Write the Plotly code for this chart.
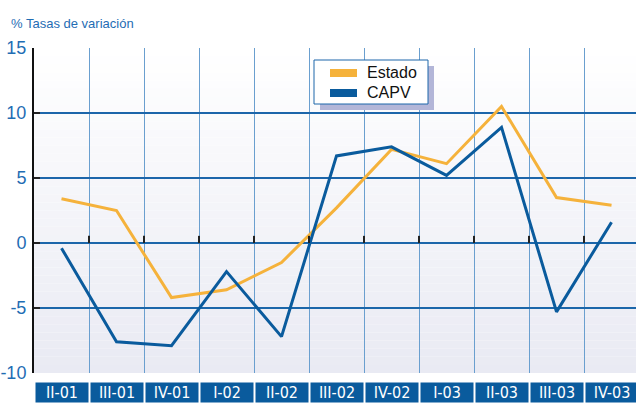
import plotly.graph_objects as go

# Quarterly periods and year-on-year growth rates (%)
periodos = ["II-01", "III-01", "IV-01", "I-02", "II-02", "III-02",
            "IV-02", "I-03", "II-03", "III-03", "IV-03"]
estado = [3.4, 2.5, -4.2, -3.6, -1.5, 2.7, 7.2, 6.1, 10.5, 3.5, 2.9]
capv = [-0.4, -7.6, -7.9, -2.2, -7.2, 6.7, 7.4, 5.2, 8.9, -5.3, 1.6]
y_ticks = [-10, -5, 0, 5, 10, 15]
y_labels = ["-10", "-5", "0", "5", "10", "15"]

NARANJA = "#f5b23b"
AZUL = "#0a5b9d"
AZUL_TXT = "#1f6db4"
AZUL_REJILLA = "#1c66aa"
AZUL_VERT = "#6a9fcf"

W, H = 636, 406
ML, MR, MT, MB = 34, 0, 48, 33
PW, PH = W - ML - MR, H - MT - MB


def fx(px):
    """Horizontal pixel -> paper fraction."""
    return (px - ML) / PW


def fy(py):
    """Vertical pixel -> paper fraction."""
    return (H - MB - py) / PH


pos = list(range(len(periodos)))
bordes = [p + 0.5 for p in pos[:-1]]

fig = go.Figure()
fig.add_trace(go.Scatter(x=pos, y=estado, mode="lines", name="Estado",
                         line=dict(color=NARANJA, width=3)))
fig.add_trace(go.Scatter(x=pos, y=capv, mode="lines", name="CAPV",
                         line=dict(color=AZUL, width=3)))

shapes = []
# soft vertical gradient behind the plotting area
n = 40
top = (255, 255, 255)
bot = (233, 234, 243)
for i in range(n):
    t = (i + 0.5) / n
    c = tuple(round(top[k] + (bot[k] - top[k]) * t) for k in range(3))
    shapes.append(dict(type="rect", xref="paper", yref="paper",
                       x0=0, x1=1, y0=1 - (i + 1) / n, y1=1 - i / n,
                       fillcolor="rgb(%d,%d,%d)" % c, line=dict(width=0),
                       layer="below"))

# small tick marks on the zero line at the period boundaries
for b in bordes:
    shapes.append(dict(type="line", xref="x", yref="y", x0=b, x1=b,
                       y0=0, y1=0.55, line=dict(color="#222222", width=2)))

# legend box with drop shadow and colour swatches
shapes.append(dict(type="rect", xref="paper", yref="paper",
                   x0=fx(320), x1=fx(434), y0=fy(110), y1=fy(66),
                   fillcolor="#b3b6d8", line=dict(width=0)))
shapes.append(dict(type="rect", xref="paper", yref="paper",
                   x0=fx(314), x1=fx(428), y0=fy(104), y1=fy(60),
                   fillcolor="white", line=dict(color=AZUL_REJILLA, width=1)))
legend_items = [("Estado", NARANJA, 73), ("CAPV", AZUL, 93)]

annotations = [
    dict(text="% Tasas de variación", xref="paper", yref="paper",
         x=fx(9), y=fy(24), xanchor="left", yanchor="middle", showarrow=False,
         font=dict(family="Liberation Sans, Arial", size=13, color=AZUL_TXT)),
]
for name, color, cy in legend_items:
    shapes.append(dict(type="rect", xref="paper", yref="paper",
                       x0=fx(330), x1=fx(357), y0=fy(cy + 4), y1=fy(cy - 4),
                       fillcolor=color, line=dict(width=0)))
    annotations.append(dict(text=name, xref="paper", yref="paper",
                            x=fx(365), y=fy(cy), xanchor="left", yanchor="middle",
                            showarrow=False,
                            font=dict(family="Liberation Sans, Arial", size=16,
                                      color="#111111")))

for p, lab in zip(pos, periodos):
    annotations.append(dict(
        text=lab, xref="x", yref="paper", x=p, y=fy(392.5),
        xanchor="center", yanchor="middle", showarrow=False,
        width=52, height=19, bgcolor="#0a5b9d", borderpad=0,
        font=dict(family="DejaVu Sans Condensed, Liberation Sans Narrow, Arial Narrow",
                  size=16, color="white")))

fig.update_layout(
    width=W, height=H,
    margin=dict(l=ML, r=MR, t=MT, b=MB),
    paper_bgcolor="white",
    plot_bgcolor="rgba(0,0,0,0)",
    shapes=shapes,
    annotations=annotations,
    showlegend=False,
    xaxis=dict(range=[-0.5, 10.445], tickvals=bordes, showticklabels=False,
               ticks="", showgrid=True, gridcolor=AZUL_VERT, gridwidth=1.2,
               zeroline=False, showline=False, automargin=False),
    yaxis=dict(range=[-10, 15], tickvals=y_ticks, ticktext=y_labels,
               ticks="inside", ticklen=6, tickwidth=2, tickcolor="#222222",
               showline=True, linecolor="#111111", linewidth=2,
               showgrid=True, gridcolor=AZUL_REJILLA, gridwidth=1.5,
               zeroline=True, zerolinecolor=AZUL_REJILLA, zerolinewidth=2,
               tickfont=dict(family="Liberation Sans, Arial", size=18,
                             color=AZUL_TXT),
               ticklabelstandoff=2, automargin=False),
)

fig.write_html("out.html")
